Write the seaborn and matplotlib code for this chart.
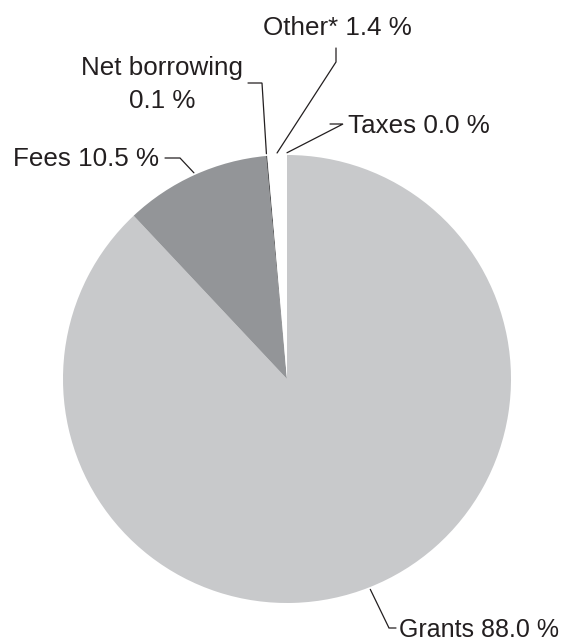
import numpy as np
import matplotlib
matplotlib.use("Agg")
import matplotlib.pyplot as plt
import seaborn as sns

# Revenue shares (percent)
categories = ["Grants", "Fees", "Net borrowing", "Other*", "Taxes"]
shares = [88.0, 10.5, 0.1, 1.4, 0.0]
label_texts = ["Grants 88.0 %", "Fees 10.5 %", "Net borrowing\n0.1 %", "Other* 1.4 %", "Taxes 0.0 %"]

sns.set_theme(style="white")
plt.rcParams["font.family"] = ["Liberation Sans", "DejaVu Sans"]

W, H = 579, 642
fig = plt.figure(figsize=(W / 100, H / 100), dpi=100)
ax = fig.add_axes([0, 0, 1, 1])

def px(x, y):
    """Pixel position (origin top-left) to data coordinates."""
    return x, H - y

colors = ["#c8c9cb", "#939598", "#58595b", "#ffffff", "#c8c9cb"]
cx, cy = px(287, 379)
R = 224
wedges, _ = ax.pie(shares, colors=colors, startangle=90, counterclock=False,
                   center=(cx, cy), radius=R, normalize=True,
                   wedgeprops=dict(linewidth=0))

ax.set_xlim(0, W)
ax.set_ylim(0, H)
ax.set_aspect("equal")
ax.axis("off")

ink = "#231f20"
fs = 18.7

# leader elbows and label placement (pixels)
layout = {
    "Grants": dict(path=[(389, 628), (396, 628)], text=(399, 637), ha="left", size=18.0),
    "Fees": dict(path=[(180, 158), (165, 158)], text=(159, 166), ha="right", size=fs),
    "Net borrowing": dict(path=[(262, 83), (248, 83)], text=(162, 75), ha="center", size=fs),
    "Other*": dict(path=[(336, 62), (336, 48)], text=(337, 35), ha="center", size=fs),
    "Taxes": dict(path=[(343, 124), (330, 124)], text=(348, 133), ha="left", size=fs),
}

for w, name, txt in zip(wedges, categories, label_texts):
    mid = np.deg2rad((w.theta1 + w.theta2) / 2)
    ax_, ay_ = cx + 1.01 * R * np.cos(mid), cy + 1.01 * R * np.sin(mid)
    spec = layout[name]
    pts = [(ax_, ay_)] + [px(*p) for p in spec["path"]]
    xs, ys = zip(*pts)
    ax.plot(xs, ys, color=ink, lw=0.9, solid_joinstyle="miter")
    tx, ty = px(*spec["text"])
    if "\n" in txt:
        first, second = txt.split("\n")
        ax.text(tx, ty, first, ha="center", va="baseline", fontsize=spec["size"], color=ink)
        ax.text(tx, ty - 33, second, ha="center", va="baseline", fontsize=spec["size"], color=ink)
    else:
        ax.text(tx, ty, txt, ha=spec["ha"], va="baseline", fontsize=spec["size"], color=ink)

fig.savefig("out.png", dpi=100)
